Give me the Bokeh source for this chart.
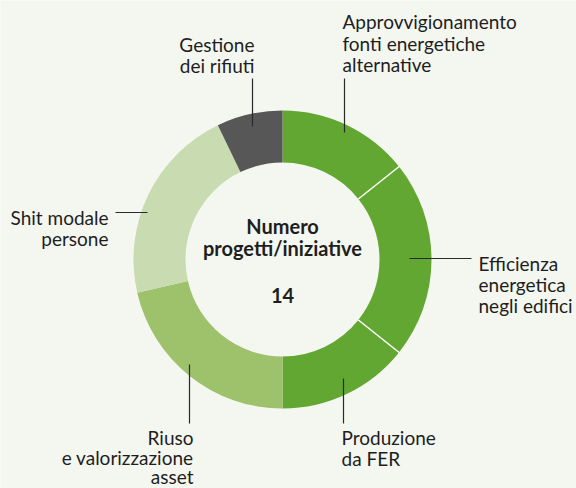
import numpy as np
from bokeh.plotting import figure
from bokeh.models import Range1d
from bokeh.core.properties import value
from bokeh.embed import file_html
from bokeh.resources import INLINE

categories = ["Approvvigionamento fonti energetiche alternative",
              "Efficienza energetica negli edifici",
              "Produzione da FER",
              "Riuso e valorizzazione asset",
              "Shit modale persone",
              "Gestione dei rifiuti"]
counts = [2, 3, 2, 3, 3, 1]
colors = ["#62a732", "#62a732", "#62a732", "#9dc26b", "#c9dbb0", "#575757"]
total_label = "14"

BG = "#f4f6f0"
FONT = "Lato"
TXT = "#1e1e1e"

W, H = 576, 488
p = figure(width=W, height=H, output_backend="svg", toolbar_location=None,
           x_range=Range1d(0, W), y_range=Range1d(0, H),
           min_border=0, outline_line_color=None,
           background_fill_color=BG, border_fill_color=BG)
p.axis.visible = False
p.grid.visible = False

def Y(py):
    return H - py

TDY = -8  # text baseline correction

cx, cy = 282, Y(259)
r_out, r_in = 149, 97
total = sum(counts)
cum = np.concatenate([[0], np.cumsum(counts)])
starts = np.pi / 2 - cum[:-1] / total * 2 * np.pi
ends = np.pi / 2 - cum[1:] / total * 2 * np.pi

p.annular_wedge(x=cx, y=cy, inner_radius=r_in, outer_radius=r_out,
                start_angle=starts, end_angle=ends, direction="clock",
                fill_color=colors, line_color=None)

for i in range(1, len(counts)):
    if colors[i] == colors[i - 1]:
        a = starts[i]
        p.segment(x0=cx + r_in * np.cos(a), y0=cy + r_in * np.sin(a),
                  x1=cx + (r_out + 1) * np.cos(a), y1=cy + (r_out + 1) * np.sin(a),
                  line_color="white", line_width=1.5)

callouts = [
    (344, 78, 344, 132),
    (409, 258, 471, 258),
    (343, 378, 343, 423),
    (189, 364, 189, 423),
    (115, 212, 147, 212),
    (252, 78, 252, 126),
]
for x0, y0, x1, y1 in callouts:
    p.segment(x0=x0, y0=Y(y0), x1=x1, y1=Y(y1), line_color="#2a2a2a", line_width=1.2)

FS = "19px"
labels = [
    (["Approvvigionamento", "fonti energetiche", "alternative"], 342, 29, "left", 21.5),
    (["Efficienza", "energetica", "negli edifici"], 478, 271, "left", 21),
    (["Produzione", "da FER"], 341, 445, "left", 21),
    (["Riuso", "e valorizzazione", "asset"], 193, 445, "right", 19.5),
    (["Shit modale", "persone"], 108, 225, "right", 21),
    (["Gestione", "dei rifiuti"], 254, 52, "right", 21),
]
for lines, x, y0, align, lh in labels:
    ys = [Y(y0 + TDY + i * lh) for i in range(len(lines))]
    p.text(x=[x] * len(lines), y=ys, text=lines, text_align=align,
           text_baseline="alphabetic", text_font=value(FONT),
           text_font_size=FS, text_color=TXT)

p.text(x=[cx, cx], y=[Y(233 + TDY), Y(255 + TDY)], text=["Numero", "progetti/iniziative"],
       text_align="center", text_baseline="alphabetic", text_font=value(FONT),
       text_font_size="20px", text_font_style="bold", text_color=TXT)
p.text(x=[cx], y=[Y(303 + TDY)], text=[total_label], text_align="center",
       text_baseline="alphabetic", text_font=value(FONT),
       text_font_size="20px", text_font_style="bold", text_color=TXT)

open("out.html", "w").write(file_html(p, INLINE))
